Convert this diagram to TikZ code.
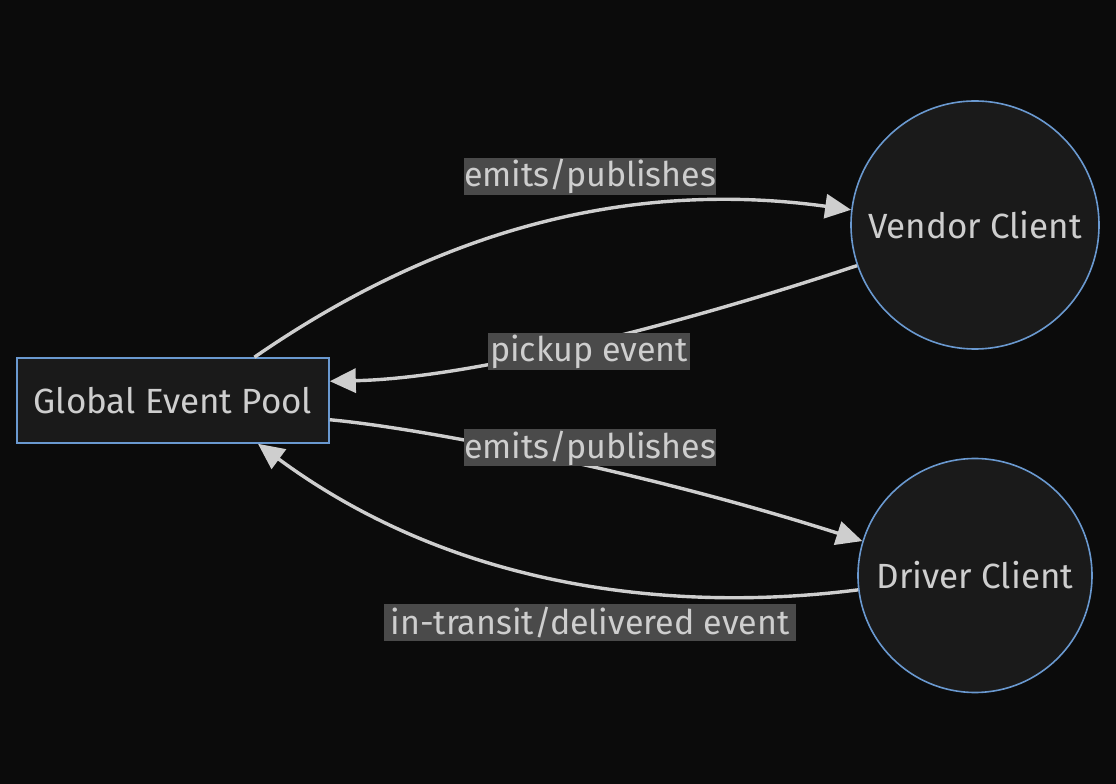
\documentclass[tikz,border=0pt]{standalone}
\usepackage{fontspec}
\setmainfont{Fira Sans}
\usetikzlibrary{arrows.meta}
\definecolor{bgc}{RGB}{11,11,11}
\definecolor{nodefill}{RGB}{26,26,26}
\definecolor{nodeline}{RGB}{106,153,208}
\definecolor{txt}{RGB}{206,206,206}
\definecolor{edgec}{RGB}{206,206,206}
\definecolor{lblbg}{RGB}{74,74,74}
\tikzset{
  boxnode/.style={draw=nodeline, line width=1.6pt, fill=nodefill, rectangle,
    minimum width=312pt, minimum height=85pt, inner sep=0pt, text=txt,
    font=\fontsize{35}{42}\selectfont},
  circnode/.style={draw=nodeline, line width=1.6pt, fill=nodefill, circle,
    inner sep=0pt, text=txt, font=\fontsize{35}{42}\selectfont},
  lbl/.style={fill=lblbg, text=txt, inner sep=0pt, minimum height=37pt,
    font=\fontsize{34}{41}\selectfont},
  conn/.style={draw=edgec, line width=3.4pt,
    -{Triangle[length=26pt,width=24pt]}, fill=none},
}
\begin{document}
\begin{tikzpicture}[x=1pt,y=1pt]
\fill[bgc] (0,0) rectangle (1116,784);
\useasboundingbox (0,0) rectangle (1116,784);
\node[boxnode] (gep) at (173,383.5) {Global Event Pool};
\node[circnode, minimum size=248pt] (vendor) at (975,559) {Vendor Client};
\node[circnode, minimum size=234pt] (driver) at (975,208.5) {Driver Client};
% edges
\draw[conn] (gep.28) .. controls (430,548) and (620,606) .. (vendor.173);
\draw[conn] (vendor.199) .. controls (700,466) and (480,406) .. (gep.7);
\draw[conn] (gep.-7) .. controls (420,356) and (640,314) .. (driver.163);
\draw[conn] (driver.187) .. controls (700,174) and (470,184) .. (gep.-27);
% labels
\node[lbl, minimum width=252pt] (l1) at (590,607.5) {emits/publishes};
\node[lbl, minimum width=202pt] (l2) at (589,432.5) {pickup event};
\node[lbl, minimum width=252pt] (l3) at (590,336) {emits/publishes};
\node[lbl, minimum width=412pt] (l4) at (590,161) {in-transit/delivered event};
\end{tikzpicture}
\end{document}
